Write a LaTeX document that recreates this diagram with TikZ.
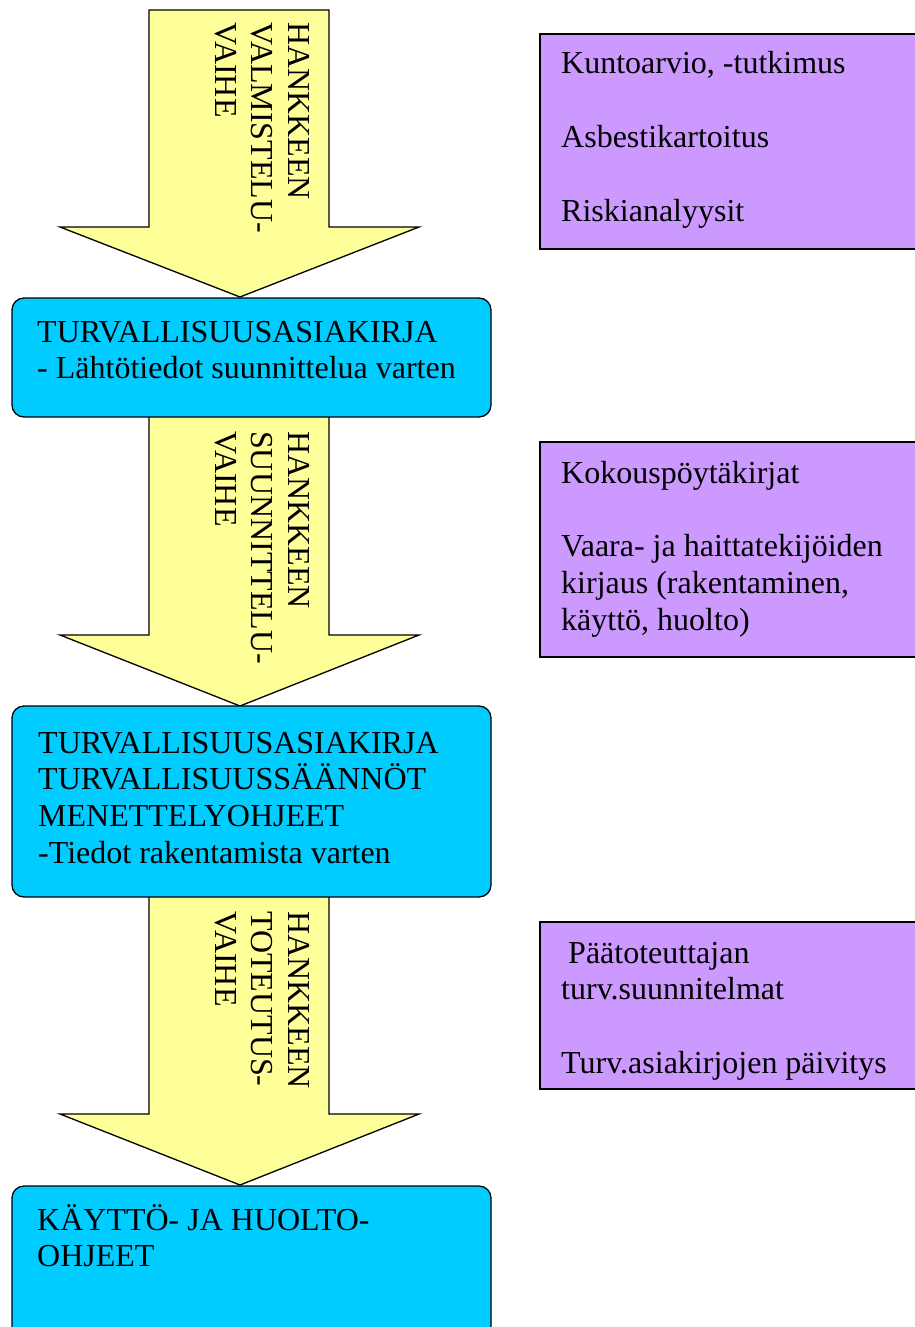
\documentclass[tikz,border=0pt]{standalone}
\usepackage{fontspec}
\setmainfont{Liberation Serif}
\definecolor{arrowyellow}{HTML}{FFFF99}
\definecolor{boxcyan}{HTML}{00CCFF}
\definecolor{boxpurple}{HTML}{CC99FF}
\begin{document}
\begin{tikzpicture}[x=1pt,y=-1pt,
  bigtxt/.style={font=\fontsize{32}{36.8}\selectfont, inner sep=0pt, align=left},
  phasearrow/.style={draw=black, line width=1.3pt, fill=arrowyellow, line join=miter},
  cyanbox/.style={draw=black, line width=1.3pt, fill=boxcyan, rounded corners=12pt},
  purplebox/.style={draw=black, line width=1.3pt, fill=boxpurple},
  vtxt/.style={bigtxt, rotate=-90, anchor=north west}]
\useasboundingbox (0,0) rectangle (914,1327);
% phase arrows
\draw[phasearrow] (149,10) -- (329,10) -- (329,227) -- (419,227) -- (240,297) -- (60,227) -- (149,227) -- cycle;
\draw[phasearrow] (149,410) -- (329,410) -- (329,635) -- (419,635) -- (240,706) -- (60,635) -- (149,635) -- cycle;
\draw[phasearrow] (149,890) -- (329,890) -- (329,1114) -- (419,1114) -- (240,1185) -- (60,1114) -- (149,1114) -- cycle;
\node[vtxt] (a1) at (310,22) {HANKKEEN\\VALMISTELU-\\VAIHE};
\node[vtxt] (a2) at (310,431) {HANKKEEN\\SUUNNITTELU-\\VAIHE};
\node[vtxt] (a3) at (310,911) {HANKKEEN\\TOTEUTUS-\\VAIHE};
% cyan boxes
\draw[cyanbox] (12,298) rectangle (491,417);
\draw[cyanbox] (12,706) rectangle (491,897);
\draw[cyanbox] (12,1186) rectangle (491,1340);
% text nodes: anchor at baseline of the last line
\node[bigtxt, anchor=base west] (b1) at (37,378.8) {TURVALLISUUSASIAKIRJA\\- Lähtötiedot suunnittelua varten};
\node[bigtxt, anchor=base west] (b2) at (38,863.4) {TURVALLISUUSASIAKIRJA\\TURVALLISUUSSÄÄNNÖT\\MENETTELYOHJEET\\-Tiedot rakentamista varten};
\node[bigtxt, anchor=base west] (b3) at (37,1266.8) {KÄYTTÖ- JA HUOLTO-\\OHJEET};
% purple boxes
\draw[purplebox] (540,34) rectangle (930,249);
\draw[purplebox] (540,442) rectangle (930,657);
\draw[purplebox] (540,922) rectangle (930,1089);
\node[bigtxt, anchor=base west] (p1) at (561,221) {Kuntoarvio, -tutkimus\\[36.8pt]Asbestikartoitus\\[36.8pt]Riskianalyysit};
\node[bigtxt, anchor=base west] (p2) at (561,630.5) {Kokouspöytäkirjat\\[36.8pt]Vaara- ja haittatekijöiden\\kirjaus (rakentaminen,\\käyttö, huolto)};
\node[bigtxt, anchor=base west] (p3) at (561,1073.4) {\hspace*{7pt}Päätoteuttajan\\turv.suunnitelmat\\[36.8pt]Turv.asiakirjojen päivitys};
\end{tikzpicture}
\end{document}
